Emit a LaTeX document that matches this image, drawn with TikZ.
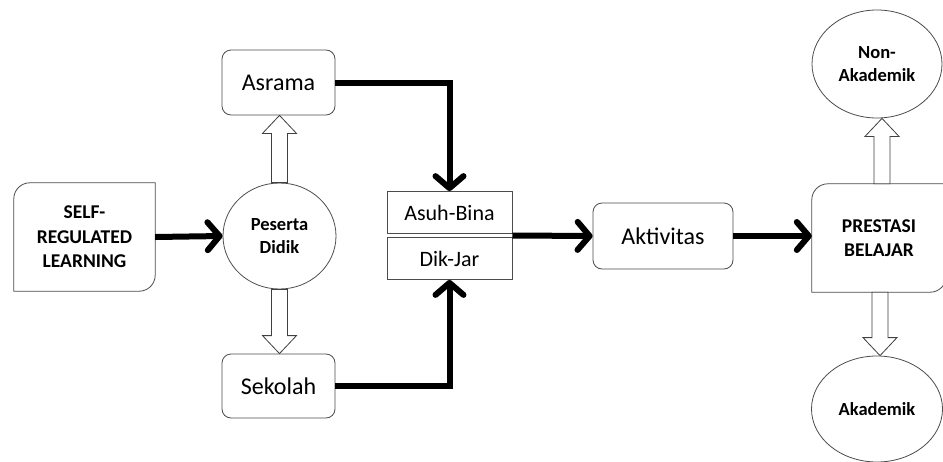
\documentclass[tikz,border=0pt]{standalone}
\usepackage{fontspec}
\setmainfont{Carlito}
\usetikzlibrary{arrows.meta,shapes.geometric,calc}

\tikzset{
  box/.style={draw=black!70, line width=0.8pt, inner sep=0pt, align=center},
  roundbox/.style={box, rounded corners=9pt, font=\fontsize{24}{28}\selectfont},
  plainbox/.style={box, font=\fontsize{22}{26}\selectfont},
  oval/.style={box, ellipse, font=\fontsize{18.5}{23}\selectfont\bfseries},
  thickarrow/.style={line width=6pt, -{Straight Barb[length=12pt,width=28pt,round]}},
  hollow/.style={draw=black!75, fill=white, line width=0.8pt}
}
\newcommand{\hollowarrow}[3]{%
  \draw[hollow] let \p1=(#1), \p2=(#2) in
    (\x1-8pt,\y1) -- (\x1-8pt,\y2+#3*18pt) -- (\x1-17pt,\y2+#3*18pt) -- (\x1,\y2)
    -- (\x1+17pt,\y2+#3*18pt) -- (\x1+8pt,\y2+#3*18pt) -- (\x1+8pt,\y1) -- cycle;}

\begin{document}
\begin{tikzpicture}[x=1pt,y=-1pt]
  \fill[white] (0,0) rectangle (943,461);
  \useasboundingbox (0,0) rectangle (943,461);

  % nodes
  \node[inner sep=0pt, minimum width=141pt, minimum height=108pt, align=center,
        font=\fontsize{19.5}{24.5}\selectfont\bfseries] (self) at (84.5,237) {SELF-\\REGULATED\\LEARNING};
  \node[oval, minimum width=113pt, minimum height=106pt] (pd) at (279.5,236) {Peserta\\Didik};
  \node[roundbox, minimum width=113pt, minimum height=65pt] (asrama) at (278.5,82.5) {Asrama};
  \node[roundbox, minimum width=113pt, minimum height=64pt] (sekolah) at (278.5,386) {Sekolah};
  \node[plainbox, minimum width=125pt, minimum height=42pt] (asuh) at (449.5,212.5) {Asuh-Bina};
  \node[plainbox, minimum width=125pt, minimum height=42pt] (dik) at (449.5,258.5) {Dik-Jar};
  \node[roundbox, minimum width=140pt, minimum height=66pt] (akt) at (663,236) {Aktivitas};
  \node[inner sep=0pt, minimum width=134pt, minimum height=108pt, align=center,
        font=\fontsize{19.5}{24.5}\selectfont\bfseries] (pb) at (879,238) {PRESTASI\\BELAJAR};
  \node[oval, minimum width=130pt, minimum height=108pt, text depth=-4pt] (non) at (877,64) {Non-\\Akademik};
  \node[oval, minimum width=131pt, minimum height=106pt] (ak) at (877,409) {Akademik};
  \coordinate (mid) at ($(asuh.south east)!0.5!(dik.north east)$);

  % boxes with two rounded corners
  \draw[draw=black!70, line width=0.8pt] (self.south west) -- ($(self.north west)+(0,16)$) arc (180:270:16)
    -- (self.north east) -- ($(self.south east)+(0,-16)$) arc (0:90:16) -- cycle;
  \draw[draw=black!70, line width=0.8pt] (pb.south west) -- ($(pb.north west)+(0,16)$) arc (180:270:16)
    -- (pb.north east) -- ($(pb.south east)+(0,-16)$) arc (0:90:16) -- cycle;

  % hollow arrows
  \hollowarrow{pd.north}{asrama.south}{-1}
  \hollowarrow{pd.south}{sekolah.north}{1}
  \hollowarrow{$(pb.north)+(3,0)$}{non.south}{-1}
  \hollowarrow{$(pb.south)+(1,0)$}{ak.north}{1}

  % thick arrows
  \draw[thickarrow] (self.east) -- (pd.west);
  \draw[thickarrow] (asrama.east) -| (asuh.north);
  \draw[thickarrow] (sekolah.east) -| (dik.south);
  \draw[thickarrow] (mid) -- (akt.west);
  \draw[thickarrow] (akt.east) -- (akt.east -| pb.west);
\end{tikzpicture}
\end{document}
